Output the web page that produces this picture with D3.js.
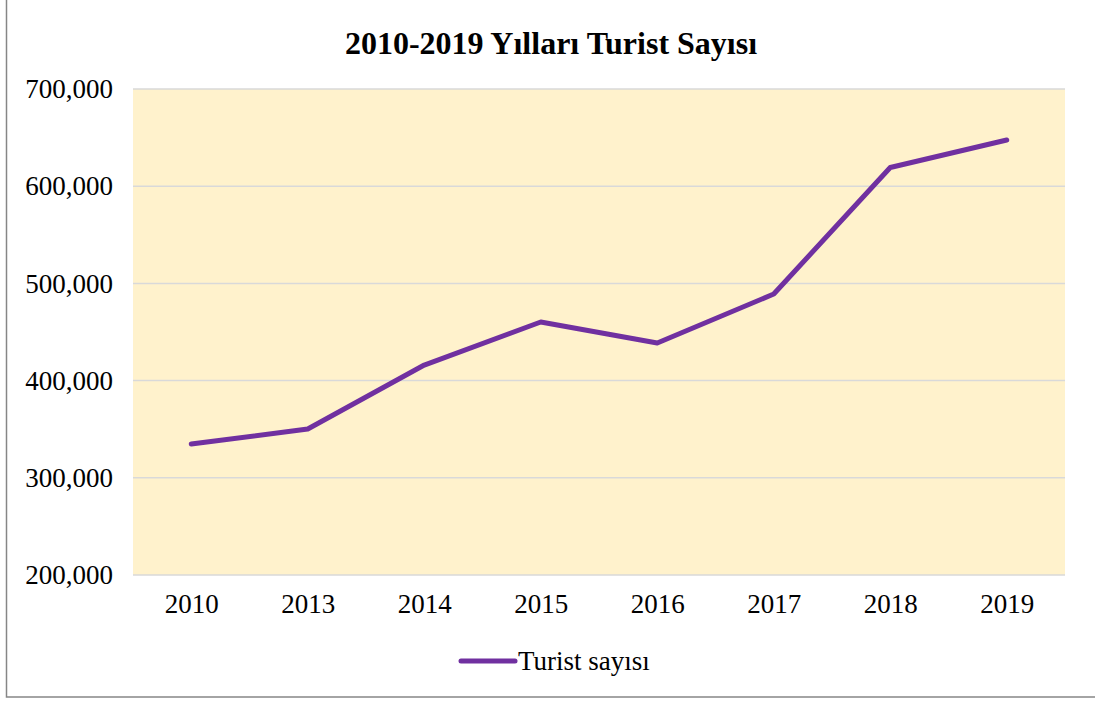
<!DOCTYPE html>
<html>
<head>
<meta charset="utf-8">
<script src="https://cdn.jsdelivr.net/npm/d3@7"></script>
<style>
  body { margin: 0; background: #fff; }
  text { font-family: "Liberation Serif", "Times New Roman", serif; }
</style>
</head>
<body>
<div class="chart"></div>
<script>
// Chart data
const years = ["2010", "2013", "2014", "2015", "2016", "2017", "2018", "2019"];
const touristCounts = [334800, 350200, 416000, 460300, 438700, 489100, 619200, 647500];
const yTicks = [200000, 300000, 400000, 500000, 600000, 700000];
const seriesName = "Turist sayısı";
const chartTitle = "2010-2019 Yılları Turist Sayısı";

const width = 1095, height = 702;
const margin = { top: 89, right: 30, bottom: 127, left: 133 };
const plotW = width - margin.left - margin.right;
const plotH = height - margin.top - margin.bottom;

const svg = d3.select(".chart")
    .append("svg")
    .attr("width", width)
    .attr("height", height);

// outer frame
svg.append("rect")
    .attr("x", 6.5)
    .attr("y", -2)
    .attr("width", width + 10)
    .attr("height", 699)
    .attr("fill", "none")
    .attr("stroke", "#868686")
    .attr("stroke-width", 1.5);

// title
svg.append("text")
    .attr("x", 551)
    .attr("y", 54)
    .attr("text-anchor", "middle")
    .style("font-size", "32px")
    .style("font-weight", "bold")
    .text(chartTitle);

const g = svg.append("g")
    .attr("transform", "translate(" + margin.left + "," + margin.top + ")");

const xScale = d3.scalePoint()
    .domain(years)
    .range([0, plotW])
    .padding(0.5);
const yScale = d3.scaleLinear()
    .domain([200000, 700000])
    .range([plotH, 0]);

// plot background
g.append("rect")
    .attr("width", plotW)
    .attr("height", plotH)
    .attr("fill", "#FFF2CC");

// gridlines
g.selectAll(".grid")
    .data(yTicks)
    .join("line")
    .attr("class", "grid")
    .attr("x1", 0)
    .attr("x2", plotW)
    .attr("y1", d => yScale(d))
    .attr("y2", d => yScale(d))
    .attr("stroke", "#D9D9D9")
    .attr("stroke-width", 1.5);

// y axis labels
const yAxis = d3.axisLeft(yScale)
    .tickValues(yTicks)
    .tickFormat(d3.format(","))
    .tickSize(0)
    .tickPadding(20);
g.append("g")
    .call(yAxis)
    .call(a => a.select(".domain").remove())
    .selectAll("text")
    .style("font-family", "'Liberation Serif', serif")
    .style("font-size", "27px")
    .attr("fill", "#000");

// x axis labels
const xAxis = d3.axisBottom(xScale).tickSize(0).tickPadding(19);
g.append("g")
    .attr("transform", "translate(0," + plotH + ")")
    .call(xAxis)
    .call(a => a.select(".domain").remove())
    .selectAll("text")
    .style("font-family", "'Liberation Serif', serif")
    .style("font-size", "27px")
    .attr("fill", "#000");

// line
const line = d3.line()
    .x((d, i) => xScale(years[i]))
    .y(d => yScale(d));
g.append("path")
    .datum(touristCounts)
    .attr("d", line)
    .attr("fill", "none")
    .attr("stroke", "#7030A0")
    .attr("stroke-width", 5)
    .attr("stroke-linecap", "round")
    .attr("stroke-linejoin", "round");

// legend
const legend = svg.append("g").attr("transform", "translate(459,661)");
legend.append("line")
    .attr("x1", 2)
    .attr("x2", 56)
    .attr("stroke", "#7030A0")
    .attr("stroke-width", 5)
    .attr("stroke-linecap", "round");
legend.append("text")
    .attr("x", 59)
    .attr("y", 9)
    .style("font-size", "27px")
    .text(seriesName);
</script>
</body>
</html>
